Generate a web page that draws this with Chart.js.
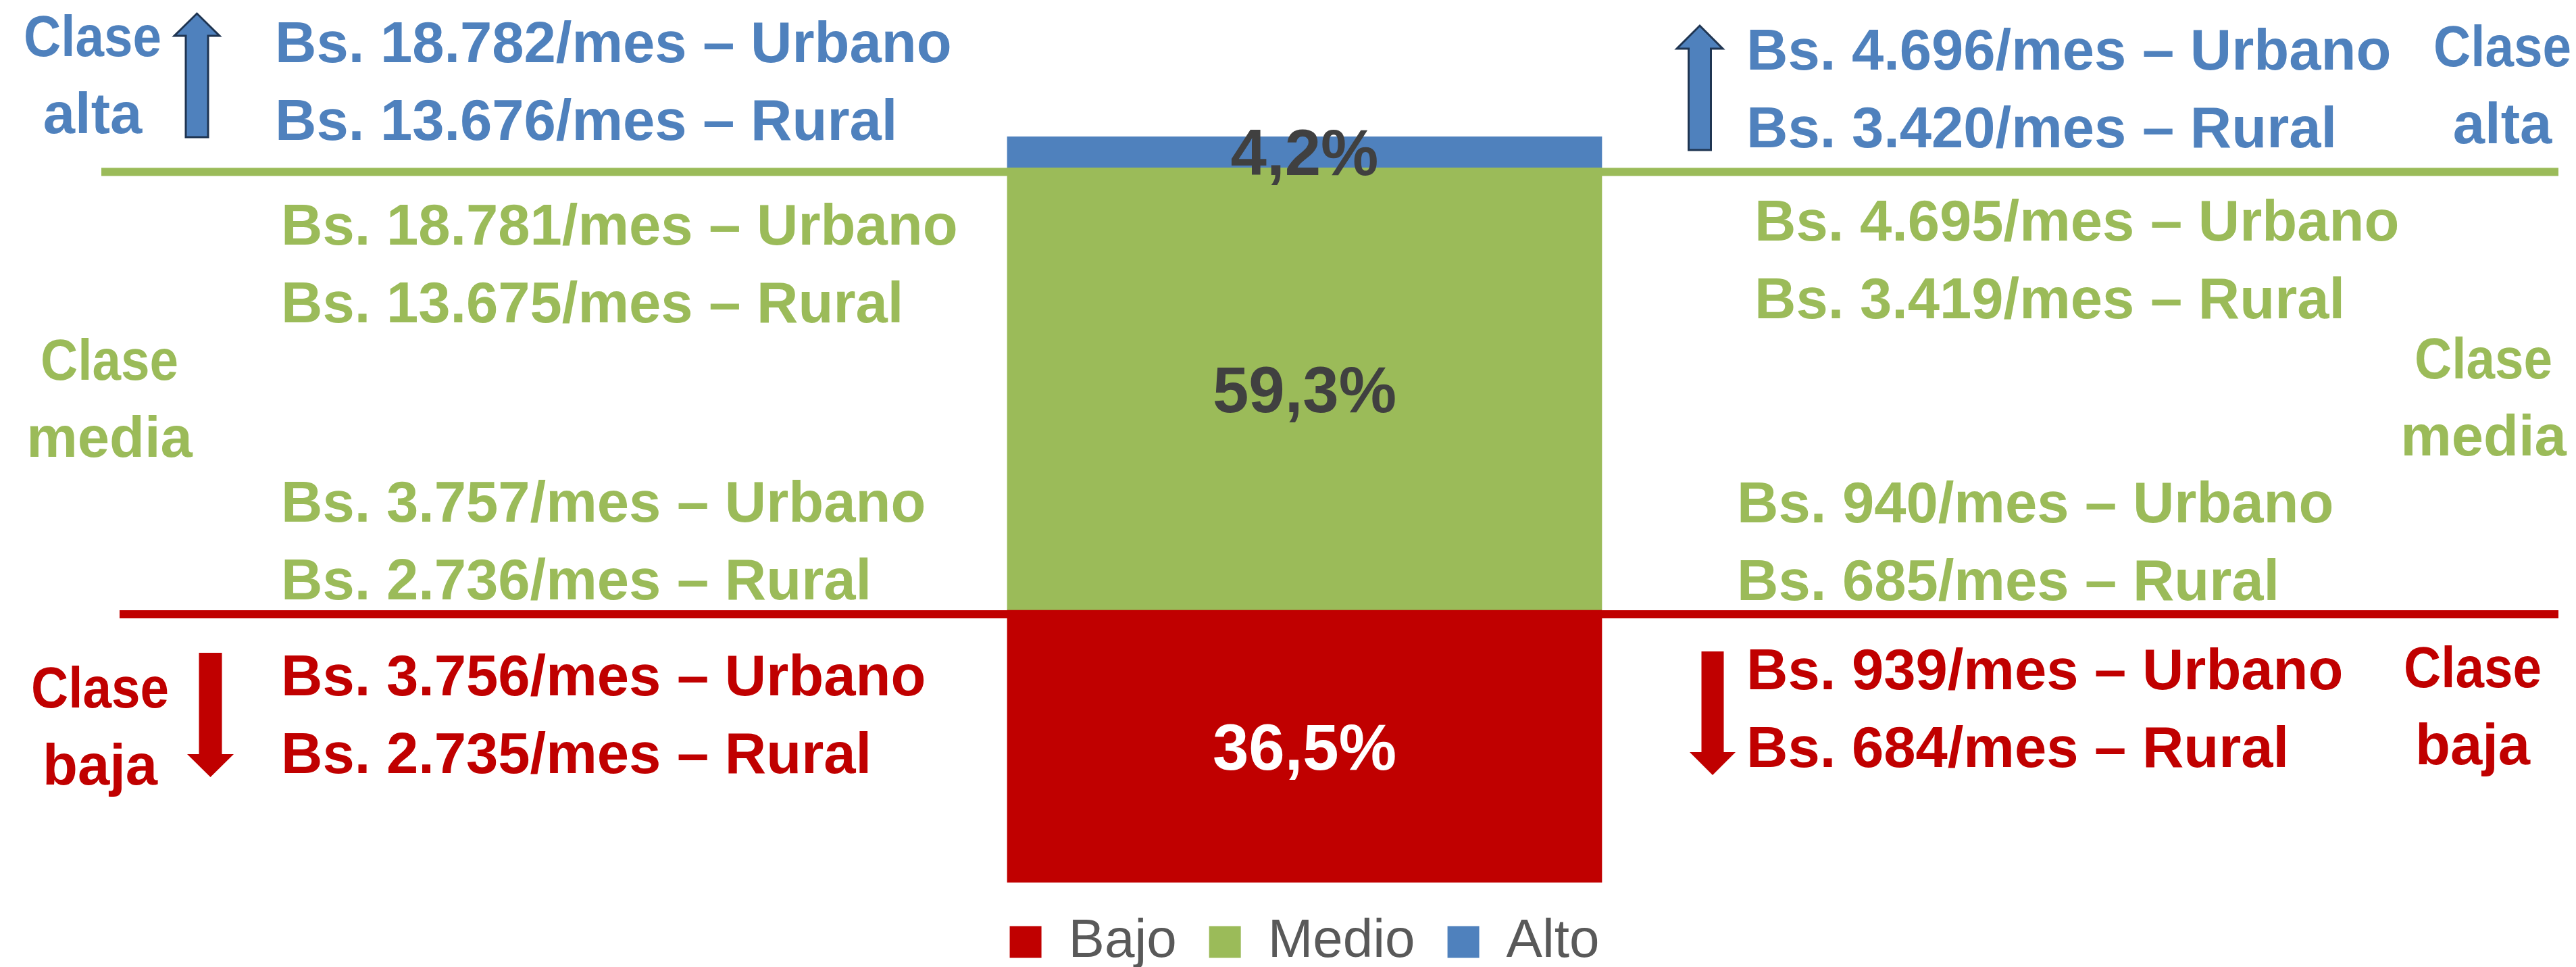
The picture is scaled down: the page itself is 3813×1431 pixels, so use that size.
<!DOCTYPE html>
<html>
<head>
<meta charset="utf-8">
<script src="https://cdn.jsdelivr.net/npm/chart.js@4"></script>
<style>
  html, body { margin: 0; padding: 0; background: #fff; }
  canvas { display: block; }
</style>
</head>
<body>
<canvas id="myChart" width="3813" height="1431"></canvas>
<script>
// series (bottom to top of the stacked bar)
const series = ['Bajo', 'Medio', 'Alto'];
const shares = [36.5, 59.3, 4.2];
const colors = ['#C00000', '#9BBB59', '#4F81BD'];

// class names, top to bottom
const clases = ['alta', 'media', 'baja'];

// income thresholds (Bs./mes), top to bottom: alta min, media max, media min, baja max
const izqUrbano = ['18.782', '18.781', '3.757', '3.756'];
const izqRural = ['13.676', '13.675', '2.736', '2.735'];
const derUrbano = ['4.696', '4.695', '940', '939'];
const derRural = ['3.420', '3.419', '685', '684'];

const FONT = "'Liberation Sans', Arial, sans-serif";
const ctx = document.getElementById('myChart');

function arrow(c, xc, yStart, yTip, headBase, shaftW, headW, fill, stroke) {
  c.beginPath();
  c.moveTo(xc - shaftW / 2, yStart);
  c.lineTo(xc - shaftW / 2, headBase);
  c.lineTo(xc - headW / 2, headBase);
  c.lineTo(xc, yTip);
  c.lineTo(xc + headW / 2, headBase);
  c.lineTo(xc + shaftW / 2, headBase);
  c.lineTo(xc + shaftW / 2, yStart);
  c.closePath();
  c.fillStyle = fill;
  c.fill();
  if (stroke) {
    c.lineWidth = 3;
    c.strokeStyle = stroke;
    c.stroke();
  }
}

const annotations = {
  id: 'annotations',
  beforeDatasetsDraw(chart) {
    const c = chart.ctx;
    const y = chart.scales.y;
    let cum = 0;
    const bounds = shares.map(v => (cum += v));
    c.save();
    c.fillStyle = colors[1];
    c.fillRect(150, y.getPixelForValue(bounds[1]), 3787 - 150, 12);
    c.fillStyle = colors[0];
    c.fillRect(177, y.getPixelForValue(bounds[0]), 3787 - 177, 12);
    c.restore();
  },
  afterDatasetsDraw(chart) {
    const c = chart.ctx;
    c.save();
    c.font = 'bold 96px ' + FONT;
    c.textAlign = 'center';
    c.textBaseline = 'alphabetic';
    chart.data.datasets.forEach((ds, i) => {
      const el = chart.getDatasetMeta(i).data[0];
      const mid = (el.y + el.base) / 2;
      c.fillStyle = i === 0 ? '#FFFFFF' : '#404040';
      c.fillText(ds.data[0].toFixed(1).replace('.', ',') + '%', el.x, mid + 34);
    });
    c.restore();
  },
  afterDraw(chart) {
    const c = chart.ctx;
    c.save();
    c.font = 'bold 85px ' + FONT;
    c.textBaseline = 'alphabetic';

    // threshold blocks
    const blockCol = [colors[2], colors[1], colors[1], colors[0]];
    const izqPos = [[407, 92], [416, 362], [416, 772], [416, 1029]];
    const derPos = [[2585, 103], [2597, 356], [2571, 773], [2585, 1020]];
    c.textAlign = 'left';
    for (let i = 0; i < 4; i++) {
      c.fillStyle = blockCol[i];
      c.fillText('Bs. ' + izqUrbano[i] + '/mes \u2013 Urbano', izqPos[i][0], izqPos[i][1]);
      c.fillText('Bs. ' + izqRural[i] + '/mes \u2013 Rural', izqPos[i][0], izqPos[i][1] + 115);
      c.fillText('Bs. ' + derUrbano[i] + '/mes \u2013 Urbano', derPos[i][0], derPos[i][1]);
      c.fillText('Bs. ' + derRural[i] + '/mes \u2013 Rural', derPos[i][0], derPos[i][1] + 115);
    }

    // class labels (Calibri in the original is narrower, squeeze "Clase" a bit)
    const claseCol = [colors[2], colors[1], colors[0]];
    const izqClase = [[137, 83], [162, 562], [148, 1047]];
    const derClase = [[3704, 98], [3676, 560], [3660, 1017]];
    c.textAlign = 'center';
    clases.forEach((name, i) => {
      c.fillStyle = claseCol[i];
      c.fillText('Clase', izqClase[i][0], izqClase[i][1], 204);
      c.fillText(name, izqClase[i][0], izqClase[i][1] + 114);
      c.fillText('Clase', derClase[i][0], derClase[i][1], 204);
      c.fillText(name, derClase[i][0], derClase[i][1] + 114);
    });

    // arrows
    arrow(c, 291.5, 203, 20, 53, 33, 67, colors[2], '#1F3552');
    arrow(c, 2516, 222, 38, 72, 33, 68, colors[2], '#1F3552');
    arrow(c, 311.5, 966, 1150, 1116, 34, 69, colors[0]);
    arrow(c, 2535, 964, 1147, 1113, 33, 68, colors[0]);
    c.restore();
  }
};

new Chart(ctx, {
  type: 'bar',
  data: {
    labels: [''],
    datasets: series.map((name, i) => ({
      label: name,
      data: [shares[i]],
      backgroundColor: colors[i],
      borderWidth: 0,
      barThickness: 880
    }))
  },
  options: {
    responsive: false,
    devicePixelRatio: 1,
    animation: false,
    layout: {
      padding: { top: 202, left: 49, right: 0, bottom: -13 }
    },
    scales: {
      x: { stacked: true, display: false },
      y: { stacked: true, display: false, min: 0, max: 100 }
    },
    plugins: {
      tooltip: { enabled: false },
      legend: {
        position: 'bottom',
        labels: {
          font: { family: FONT, size: 80 },
          color: '#595959',
          boxWidth: 47,
          boxHeight: 47,
          padding: 48
        }
      }
    }
  },
  plugins: [annotations]
});
</script>
</body>
</html>
